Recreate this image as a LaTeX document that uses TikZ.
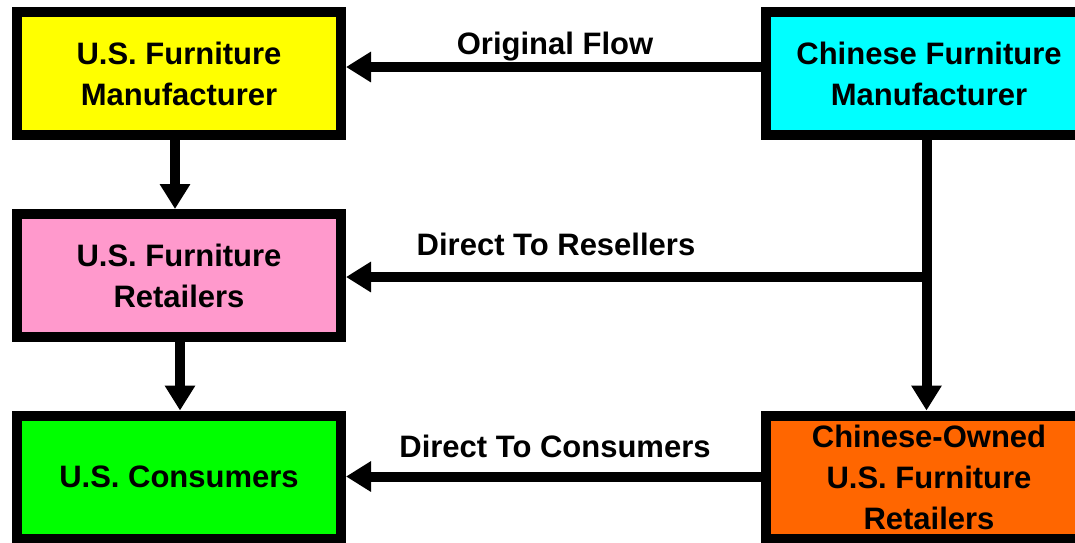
\documentclass[tikz,border=0pt]{standalone}
\usepackage{fontspec}
\setmainfont{Liberation Sans}
\usetikzlibrary{arrows.meta}
\definecolor{cyellow}{HTML}{FFFF00}
\definecolor{ccyan}{HTML}{00FFFF}
\definecolor{cpink}{HTML}{FF99CC}
\definecolor{cgreen}{HTML}{00FF00}
\definecolor{corange}{HTML}{FF6600}
\tikzset{
  box/.style={draw=black, line width=10pt, rectangle, align=center,
    minimum width=324pt, minimum height=123pt, inner sep=0pt,
    font=\bfseries\fontsize{31}{41}\selectfont},
  flow/.style={line width=10pt, draw=black, -{Triangle[length=25pt,width=29pt]}},
  lbl/.style={font=\bfseries\fontsize{31}{37}\selectfont, anchor=base, inner sep=0pt}
}
\begin{document}
\begin{tikzpicture}[x=1pt,y=-1pt]
\useasboundingbox (0,0) rectangle (1075,542);
\node[box, fill=cyellow] (usm) at (179,73.5) {U.S. Furniture\\Manufacturer};
\node[box, fill=ccyan, minimum width=326pt] (cnm) at (929,73.5) {Chinese Furniture\\Manufacturer};
\node[box, fill=cpink] (usr) at (179,275.5) {U.S. Furniture\\Retailers};
\node[box, fill=cgreen] (usc) at (179,477) {U.S. Consumers};
\node[box, fill=corange, minimum width=326pt] (cno) at (929,477) {Chinese-Owned\\U.S. Furniture\\Retailers};
\coordinate (j) at (926.5,277);
\coordinate (of) at (700,67);
\coordinate (dc) at (700,476.5);
\draw[flow] (cnm.west |- of) -- (usm.east |- of);
\draw[flow] ([xshift=-4pt]usm.south) -- ([xshift=-4pt]usr.north);
\draw[flow] ([xshift=1pt]usr.south) -- ([xshift=1pt]usc.north);
\draw[flow] (cnm.south -| j) -- (cno.north -| j);
\draw[flow] ([xshift=5pt]j) -- (usr.east |- j);
\draw[flow] (cno.west |- dc) -- (usc.east |- dc);
\node[lbl] (t1) at (555,54) {Original Flow};
\node[lbl] (t2) at (556,255) {Direct To Resellers};
\node[lbl] (t3) at (555,457) {Direct To Consumers};
\end{tikzpicture}
\end{document}
